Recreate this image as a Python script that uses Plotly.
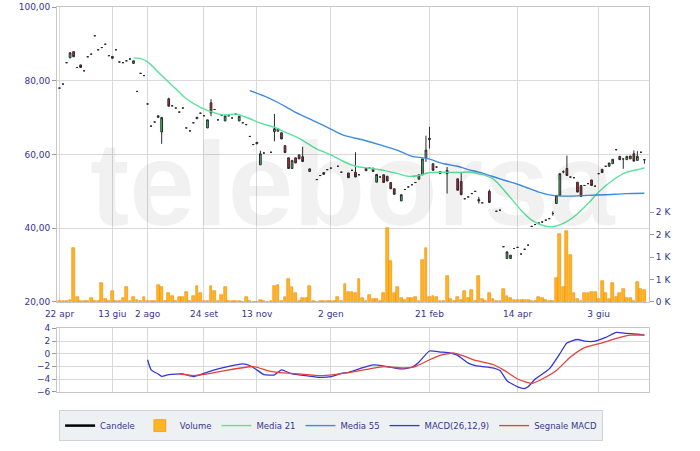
import plotly.graph_objects as go

# ---------------- data ----------------
tick_idx = [0, 15, 25, 41, 56, 77, 105, 130, 153]
tick_lbl = ["22 apr", "13 giu", "2 ago", "24 set", "13 nov", "2 gen", "21 feb", "14 apr", "3 giu"]

cdl_idx = [0, 1, 2, 3, 4, 5, 6, 7, 8, 9, 10, 11, 12, 13, 14, 15, 16, 17, 18, 19, 20, 21, 22, 23, 24, 25, 26, 27, 28, 29,
           31, 32, 33, 34, 35, 36, 37, 38, 39, 40, 41, 42, 43, 44, 45, 46, 47, 48, 49, 50, 51, 52, 53, 54, 55, 56, 57, 58,
           60, 61, 62, 63, 64, 65, 66, 67, 68, 69, 71, 73, 74, 75, 76, 77, 79, 80, 82, 83, 84, 85, 87, 88, 89, 90, 91, 92,
           93, 94, 95, 97, 98, 99, 100, 101, 102, 103, 104, 105, 106, 107, 108, 110, 113, 114, 115, 116, 117, 118, 119, 120,
           122, 124, 125, 126, 127, 128, 129, 130, 131, 132, 133, 134, 135, 136, 137, 138, 139, 140, 141, 142, 143, 144, 145,
           146, 147, 148, 149, 150, 151, 152, 153, 154, 155, 156, 157, 158, 159, 160, 161, 162, 163, 164, 165, 166]
cdl_open = [78.0, 79.1, 84.9, 86.2, 87.9, 83.6, 84.3, 82.7, 86.5, 87.2, 92.2, 88.4, 89.0, 89.9, 86.8, 86.6, 88.4, 85.1, 84.9, 85.4, 85.9, 84.7, 77.1, 82.0, 81.4, 73.7, 67.7, 68.8, 70.5, 66.1,
            75.1, 73.2, 72.6, 71.5, 72.6, 67.2, 66.4, 68.6, 69.7, 71.2, 70.5, 67.2, 74.0, 72.2, 69.4, 70.7, 69.1, 70.5, 69.9, 71.0, 69.1, 68.6, 68.1, 64.9, 62.7, 63.3, 57.2, 60.4,
            60.6, 66.2, 66.3, 65.9, 62.4, 59.1, 56.2, 59.1, 59.9, 59.4, 55.4, 53.2, 54.3, 54.6, 55.9, 56.3, 56.8, 55.2, 55.0, 55.7, 55.2, 54.5, 56.3, 56.3, 56.3, 52.5, 53.9, 54.5,
            54.1, 52.4, 50.7, 47.4, 50.5, 51.2, 51.8, 52.4, 53.3, 54.5, 59.1, 64.0, 57.5, 56.6, 54.8, 54.8, 53.4, 52.7, 48.0, 48.5, 49.4, 50.0, 47.8, 46.9,
            50.0, 44.6, 44.9, 35.0, 31.8, 31.8, 34.5, 34.8, 33.0, 34.3, 35.4, 40.5, 41.0, 41.4, 41.7, 42.2, 42.6, 44.0, 46.7, 48.9, 55.3, 56.2, 53.9,
            53.7, 52.5, 51.6, 51.6, 52.1, 53.1, 51.4, 54.8, 56.0, 56.8, 56.8, 57.5, 61.3, 59.5, 58.8, 58.6, 58.8, 60.2, 58.4, 60.6, 58.6]
cdl_high = [78.0, 79.1, 84.9, 87.6, 87.9, 83.6, 84.3, 82.7, 86.5, 87.2, 92.2, 88.4, 89.0, 89.9, 86.8, 86.6, 88.4, 85.1, 84.9, 85.4, 85.9, 85.4, 77.1, 82.0, 81.4, 73.7, 67.7, 68.8, 70.5, 70.2,
            75.4, 73.2, 72.6, 71.5, 72.6, 67.2, 66.4, 68.6, 70.1, 71.2, 70.5, 69.4, 75.0, 72.2, 69.4, 70.7, 70.5, 70.5, 69.9, 71.0, 70.4, 68.6, 68.1, 64.9, 62.7, 63.3, 61.0, 60.4,
            60.6, 71.0, 67.0, 65.9, 62.4, 59.1, 58.4, 59.1, 59.9, 62.1, 56.1, 53.2, 54.3, 55.1, 55.9, 56.3, 56.8, 55.2, 55.0, 55.7, 60.6, 54.5, 56.3, 56.3, 56.3, 54.6, 53.9, 54.5,
            54.1, 52.4, 50.7, 49.1, 50.5, 51.2, 51.8, 52.4, 54.5, 58.8, 65.1, 67.5, 57.5, 56.6, 55.4, 56.6, 53.4, 55.2, 48.0, 48.5, 49.4, 50.0, 48.5, 46.9,
            50.5, 44.6, 44.9, 35.0, 33.6, 32.7, 34.5, 34.8, 33.0, 34.3, 35.4, 40.5, 41.0, 41.4, 41.7, 42.2, 42.6, 44.6, 48.9, 54.8, 55.7, 59.7, 53.9,
            53.7, 52.5, 51.6, 51.6, 52.1, 53.1, 51.4, 54.8, 56.0, 56.8, 57.7, 58.7, 61.3, 59.5, 58.8, 59.5, 59.6, 61.1, 60.9, 60.6, 58.6]
cdl_low = [78.0, 79.1, 84.9, 86.2, 86.5, 83.6, 83.6, 82.7, 86.5, 87.2, 92.2, 88.4, 89.0, 89.9, 86.8, 86.1, 88.4, 85.1, 84.9, 85.4, 85.9, 84.7, 77.1, 82.0, 81.4, 73.7, 67.7, 68.8, 70.1, 62.9,
           73.1, 73.2, 72.6, 71.5, 72.6, 67.2, 66.4, 68.6, 69.7, 71.2, 70.5, 67.2, 70.4, 72.2, 69.4, 70.7, 69.1, 70.5, 69.9, 71.0, 69.1, 68.6, 68.1, 64.9, 62.7, 62.9, 57.2, 60.4,
           60.6, 63.6, 66.3, 64.2, 60.5, 56.2, 56.2, 57.7, 58.8, 58.0, 55.4, 53.2, 54.3, 54.6, 55.9, 56.3, 56.8, 55.2, 53.7, 55.7, 53.9, 54.5, 55.6, 56.3, 55.4, 52.5, 53.9, 52.4,
           52.8, 50.7, 49.2, 47.4, 50.5, 51.2, 51.8, 52.4, 53.3, 54.5, 58.0, 61.6, 55.7, 56.6, 54.8, 49.4, 50.3, 49.1, 48.0, 48.5, 49.4, 50.0, 46.7, 46.9,
           47.0, 44.6, 44.9, 35.0, 31.8, 31.8, 34.5, 34.8, 33.0, 34.3, 35.4, 40.5, 41.0, 41.4, 41.7, 42.2, 42.6, 43.4, 46.7, 48.9, 54.9, 54.3, 53.9,
           53.7, 49.8, 48.6, 51.6, 52.1, 51.6, 51.4, 54.8, 55.1, 56.8, 56.8, 57.5, 61.3, 58.6, 56.1, 58.6, 58.8, 58.2, 58.4, 60.6, 57.5]
cdl_close = [78.0, 79.1, 84.9, 87.6, 86.5, 83.6, 83.6, 82.7, 86.5, 87.2, 92.2, 88.4, 89.0, 89.9, 86.8, 86.1, 88.4, 85.1, 84.9, 85.4, 85.9, 85.4, 77.1, 82.0, 81.4, 73.7, 67.7, 68.8, 70.1, 70.0,
             73.1, 73.2, 72.6, 71.5, 72.6, 67.2, 66.4, 68.6, 70.1, 71.2, 70.5, 69.4, 71.3, 72.2, 69.4, 70.7, 70.5, 70.5, 69.9, 71.0, 70.4, 68.6, 68.1, 64.9, 62.7, 62.9, 60.2, 60.4,
             60.6, 67.0, 67.0, 64.2, 60.5, 56.2, 58.4, 57.7, 58.8, 58.1, 56.1, 53.2, 54.3, 55.1, 55.9, 56.3, 56.8, 55.2, 53.7, 55.7, 53.9, 54.5, 55.6, 56.3, 55.4, 54.6, 53.9, 52.4,
             52.8, 50.7, 49.2, 49.1, 50.5, 51.2, 51.8, 52.4, 54.5, 58.8, 61.2, 64.4, 55.7, 56.6, 55.4, 55.7, 50.3, 49.1, 48.0, 48.5, 49.4, 50.0, 47.4, 46.9,
             47.0, 44.6, 44.9, 35.0, 33.6, 32.7, 34.5, 34.8, 33.0, 34.3, 35.4, 40.5, 41.0, 41.4, 41.7, 42.2, 42.6, 44.0, 48.9, 54.8, 55.3, 54.3, 53.9,
             53.7, 49.8, 48.6, 51.6, 52.1, 51.6, 51.4, 54.8, 55.1, 56.8, 57.7, 58.7, 61.3, 58.6, 58.8, 59.5, 59.6, 58.2, 59.5, 60.6, 58.6]

vol_idx = list(range(167))
volume = [15, 15, 20, 44, 1215, 118, 30, 30, 20, 96, 15, 15, 430, 60, 15, 250, 15, 20, 96, 326,
          30, 118, 40, 20, 118, 15, 20, 30, 377, 340, 20, 192, 140, 30, 118, 118, 229, 15, 140, 355,
          207, 15, 20, 355, 236, 15, 162, 326, 20, 15, 15, 15, 10, 118, 15, 10, 10, 40, 15, 10,
          15, 355, 377, 15, 118, 503, 340, 192, 15, 96, 96, 362, 15, 10, 15, 20, 15, 15, 30, 118,
          30, 392, 229, 229, 192, 503, 85, 15, 148, 60, 60, 15, 192, 1660, 918, 207, 326, 96, 44, 96,
          96, 118, 20, 947, 1215, 118, 133, 118, 20, 15, 585, 60, 20, 118, 44, 244, 96, 266, 30, 577,
          60, 20, 207, 60, 20, 15, 281, 140, 85, 44, 44, 44, 44, 40, 20, 15, 118, 85, 44, 20,
          15, 525, 1525, 326, 1577, 1044, 192, 60, 30, 207, 207, 222, 229, 60, 474, 192, 60, 414, 118, 192,
          281, 96, 85, 30, 451, 296, 259]

ma21_idx = [21, 23, 25, 29, 33, 36, 40, 44, 47, 50, 53, 57, 61, 63, 68, 73, 77, 80, 84, 88, 92, 96, 99, 102,
            105, 109, 113, 117, 123, 127, 131, 134, 137, 140, 143, 146, 150, 153, 157, 161, 165, 166]
ma21_val = [86.2, 86.0, 85.1, 81.4, 77.8, 75.1, 72.8, 71.3, 70.7, 71.0, 70.1, 68.5, 67.4, 66.5, 64.4, 61.5, 59.9,
            58.4, 56.8, 56.3, 55.7, 54.8, 54.1, 54.3, 55.1, 55.2, 55.1, 55.2, 53.4, 49.4, 44.9, 42.2, 40.8, 40.4,
            41.3, 43.1, 46.7, 49.8, 53.0, 55.2, 56.1, 56.4]

ma55_idx = [54, 58, 62, 67, 72, 77, 81, 86, 91, 96, 100, 104, 109, 113, 116, 119, 125, 131, 136, 140, 144, 150,
            155, 161, 166]
ma55_val = [77.3, 75.9, 74.1, 71.4, 69.2, 66.9, 65.1, 64.0, 62.6, 61.1, 59.5, 59.0, 57.5, 56.8, 55.9, 55.2, 53.4,
            51.6, 49.8, 48.9, 48.7, 48.9, 49.1, 49.4, 49.5]

macd_idx = [25, 26, 28, 29, 31, 35, 38, 40, 42, 45, 49, 52, 54, 56, 58, 61, 63, 66, 70, 74, 77, 80, 82, 85, 89,
            93, 97, 100, 102, 105, 108, 111, 113, 116, 118, 120, 123, 125, 127, 130, 132, 133, 135, 139, 142, 144,
            147, 149, 152, 155, 158, 161, 164, 166]
macd_val = [-0.96, -2.56, -3.2, -3.58, -3.3, -3.2, -3.63, -3.3, -2.9, -2.4, -1.87, -1.6, -1.87, -2.56, -3.3, -3.36,
            -2.56, -3.2, -3.47, -3.74, -3.63, -3.1, -2.94, -2.4, -1.76, -2.03, -2.4, -2.14, -1.34, 0.42, 0.26, 0.1,
            -0.27, -1.5, -1.87, -2.03, -2.24, -2.67, -4.27, -5.23, -5.5, -5.23, -4.0, -2.4, 0.0, 1.7, 2.24, 1.97,
            1.97, 2.56, 3.36, 3.2, 3.09, 2.93]

sig_idx = [34, 38, 42, 47, 55, 59, 62, 68, 74, 78, 82, 88, 92, 97, 101, 105, 108, 112, 115, 118, 123, 126, 130,
           134, 137, 141, 145, 149, 154, 158, 162, 166]
sig_val = [-3.2, -3.47, -3.2, -2.67, -2.03, -2.67, -2.94, -3.2, -3.47, -3.3, -3.0, -2.4, -2.03, -2.24, -2.03,
           -0.96, -0.27, 0.1, -0.43, -1.07, -1.71, -2.56, -4.0, -4.7, -4.0, -2.67, -0.54, 0.96, 1.7, 2.4, 2.93, 2.93]

vol_ticks = [0, 500, 1000, 1500, 2000]
vol_tick_lbl = ["0 K", "1 K", "1 K", "2 K", "2 K"]
price_ticks = [20, 40, 60, 80, 100]
macd_ticks = [-6, -4, -2, 0, 2, 4]

# ---------------- figure ----------------
TXT = "#35358a"
GRID = "#d9d9d9"
FRAME = "#c6c6c6"

fig = go.Figure()

fig.add_trace(go.Bar(
    x=vol_idx, y=volume, xaxis="x", yaxis="y", name="Volume", width=0.8,
    marker=dict(color="#FFB522", line=dict(color="#F08A00", width=0.6)),
    legendrank=2, hoverinfo="skip"))

fig.add_trace(go.Candlestick(
    x=cdl_idx, open=cdl_open, high=cdl_high, low=cdl_low, close=cdl_close,
    xaxis="x", yaxis="y2", showlegend=False, whiskerwidth=0,
    increasing=dict(fillcolor="#3BD46A", line=dict(color="#2b2b2b", width=1)),
    decreasing=dict(fillcolor="#D81E3C", line=dict(color="#2b2b2b", width=1))))

fig.add_trace(go.Scatter(x=[None], y=[None], mode="lines", name="Candele",
                         xaxis="x", yaxis="y2", line=dict(color="#000000", width=2.5), legendrank=1))

fig.add_trace(go.Scatter(x=ma21_idx, y=ma21_val, mode="lines", name="Media 21", xaxis="x", yaxis="y2",
                         line=dict(color="#57E39B", width=1.4, shape="spline", smoothing=0.8), legendrank=3))
fig.add_trace(go.Scatter(x=ma55_idx, y=ma55_val, mode="lines", name="Media 55", xaxis="x", yaxis="y2",
                         line=dict(color="#3D8BE3", width=1.4, shape="spline", smoothing=0.8), legendrank=4))

fig.add_trace(go.Scatter(x=macd_idx, y=macd_val, mode="lines", name="MACD(26,12,9)", xaxis="x2", yaxis="y3",
                         line=dict(color="#3535D8", width=1.3, shape="spline", smoothing=0.5), legendrank=5))
fig.add_trace(go.Scatter(x=sig_idx, y=sig_val, mode="lines", name="Segnale MACD", xaxis="x2", yaxis="y3",
                         line=dict(color="#E5403A", width=1.3, shape="spline", smoothing=0.5), legendrank=6))

fig.add_annotation(text="<b>teleborsa</b>", xref="paper", yref="paper", x=0.5, y=0.54,
                   showarrow=False, font=dict(family="Liberation Sans", size=118, color="rgba(0,0,0,0.055)"))

xr = [-0.71, 167.3]
fig.update_layout(
    width=700, height=451,
    margin=dict(l=57, r=51, t=7, b=59, autoexpand=False),
    paper_bgcolor="white", plot_bgcolor="white",
    separators=",.",
    font=dict(family="DejaVu Sans", size=9, color=TXT),
    bargap=0,
    xaxis=dict(domain=[0, 1], anchor="y", range=xr, tickvals=tick_idx, ticktext=tick_lbl,
               showgrid=True, gridcolor=GRID, gridwidth=1, showline=True, linecolor=FRAME, mirror=True,
               ticks="outside", ticklen=3, tickcolor="rgba(0,0,0,0)", automargin=False,
               zeroline=False, rangeslider=dict(visible=False), tickfont=dict(size=9, color=TXT)),
    xaxis2=dict(domain=[0, 1], anchor="y3", matches="x", range=xr, tickvals=tick_idx, showticklabels=False,
                showgrid=True, gridcolor=GRID, showline=True, linecolor=FRAME, mirror=True, ticks="",
                zeroline=False, automargin=False),
    yaxis=dict(domain=[0.2338, 1], anchor="x", side="right", range=[0, 6578],
               tickvals=vol_ticks, ticktext=vol_tick_lbl, showgrid=False, ticks="outside", ticklen=4,
               tickcolor="#9a9a9a", showline=True, linecolor=FRAME, zeroline=False, automargin=False),
    yaxis2=dict(overlaying="y", anchor="x", side="left", range=[20, 100], tickvals=price_ticks,
                tickformat=".2f", showgrid=True, gridcolor=GRID, ticks="outside", ticklen=4,
                tickcolor="#9a9a9a", showline=True, linecolor=FRAME, zeroline=False, automargin=False),
    yaxis3=dict(domain=[0, 0.1662], anchor="x2", range=[-6.05, 4.05], tickvals=macd_ticks,
                showgrid=True, gridcolor=GRID, ticks="outside", ticklen=4, tickcolor="#9a9a9a",
                showline=True, linecolor=FRAME, mirror=True, zeroline=False, automargin=False),
    legend=dict(orientation="h", x=0.463, xanchor="center", y=-0.047, yanchor="top",
                bgcolor="#eef1f4", bordercolor="#cfd4da", borderwidth=1,
                font=dict(size=8.5, color=TXT), traceorder="normal"),
    showlegend=True,
)

fig.write_html("out.html", config={"displayModeBar": False},
               post_script="document.body.style.margin='0';document.body.style.padding='0';")
